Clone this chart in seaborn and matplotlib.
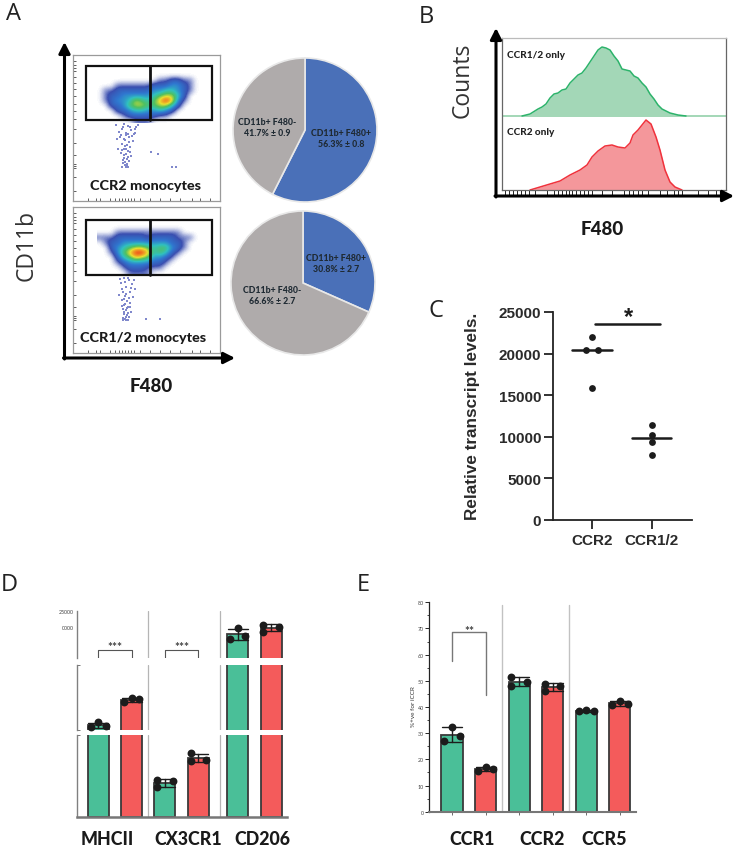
import numpy as np
import pandas as pd
import matplotlib
matplotlib.use('Agg')
import matplotlib.pyplot as plt
from matplotlib.patches import Rectangle
import seaborn as sns

W, H = 742, 853

# ---- panel A: gated density (levels read by eye), columns every 6 px, rows every 5 px
flow_x = [100, 106, 112, 118, 124, 130, 136, 142, 148, 154, 160, 166, 172, 178, 184, 190, 196]
ccr2_y = [76, 81, 86, 91, 96, 101, 106, 111, 116, 121]
ccr2_density = [
    [0, 0, 0, 0, 0, 0, 0, 0, 0, 0, 0, 0, 0, 0, 0, 0, 0],
    [0, 0, 0, 0, 0, 0, 0, 0, 0, 0, 1, 1, 2, 2, 1, 1, 0],
    [0, 0, 0, 1, 1, 1, 1, 1, 1, 2, 2, 2, 3, 3, 2, 1, 0],
    [0, 1, 1, 2, 2, 2, 2, 2, 2, 3, 3, 4, 4, 3, 2, 1, 0],
    [0, 1, 2, 2, 3, 3, 3, 3, 3, 4, 5, 6, 6, 4, 2, 0, 0],
    [0, 1, 2, 3, 3, 4, 6, 5, 4, 5, 7, 9, 7, 3, 1, 0, 0],
    [0, 0, 2, 2, 3, 5, 6, 6, 5, 5, 6, 6, 4, 2, 0, 0, 0],
    [0, 0, 0, 2, 2, 3, 4, 4, 3, 3, 4, 3, 2, 0, 0, 0, 0],
    [0, 0, 0, 0, 1, 2, 2, 2, 2, 2, 1, 1, 0, 0, 0, 0, 0],
    [0, 0, 0, 0, 0, 0, 1, 1, 1, 0, 0, 0, 0, 0, 0, 0, 0],
]
ccr12_y = [228, 233, 238, 243, 248, 253, 258, 263, 268, 273]
ccr12_density = [
    [0, 0, 0, 0, 0, 0, 0, 0, 0, 0, 0, 0, 0, 0, 0, 0, 0],
    [0, 0, 0, 1, 1, 1, 1, 1, 1, 1, 1, 1, 1, 1, 0, 0, 0],
    [1, 1, 1, 2, 2, 2, 2, 2, 1, 2, 2, 2, 2, 1, 1, 1, 0],
    [0, 1, 2, 2, 3, 3, 3, 3, 3, 3, 3, 3, 2, 2, 1, 0, 0],
    [0, 0, 2, 3, 4, 5, 6, 6, 5, 4, 5, 5, 3, 2, 1, 0, 0],
    [0, 0, 1, 3, 5, 7, 9, 9, 7, 4, 5, 4, 2, 1, 0, 0, 0],
    [0, 0, 0, 2, 4, 5, 7, 6, 5, 3, 3, 2, 1, 0, 0, 0, 0],
    [0, 0, 0, 1, 2, 3, 3, 3, 3, 2, 2, 1, 0, 0, 0, 0, 0],
    [0, 0, 0, 0, 1, 2, 2, 2, 1, 1, 1, 0, 0, 0, 0, 0, 0],
    [0, 0, 0, 0, 0, 1, 1, 1, 1, 0, 0, 0, 0, 0, 0, 0, 0],
]
ccr2_tail_x = [124, 128, 122, 131, 126, 134, 120, 129, 125, 133, 122, 127, 130, 124, 128, 121, 126, 131, 124, 127, 129, 123, 125, 127, 126, 128, 151, 158, 172, 176, 136, 118,
               116, 119, 123, 126, 130, 135, 138, 117, 121, 124, 128, 132, 135, 125, 129, 122, 126, 124, 130, 123, 128, 125, 127, 122]
ccr2_tail_y = [125, 127, 130, 131, 134, 135, 138, 138, 141, 142, 145, 146, 148, 150, 152, 154, 155, 157, 159, 160, 162, 164, 166, 167, 168, 168, 153, 155, 168, 168, 128, 150,
               126, 133, 128, 136, 128, 130, 126, 140, 136, 140, 135, 137, 134, 147, 143, 151, 150, 156, 153, 161, 158, 163, 165, 168]
ccr12_tail_x = [124, 129, 121, 132, 126, 135, 123, 130, 125, 133, 122, 127, 130, 124, 128, 123, 126, 131, 124, 127, 129, 123, 125, 127, 126, 128, 146, 160,
                120, 125, 128, 134, 122, 126, 131, 119, 124, 129, 125, 122, 127, 130, 124, 128, 126, 123]
ccr12_tail_y = [279, 281, 284, 285, 288, 290, 293, 293, 297, 298, 301, 302, 304, 306, 308, 310, 311, 313, 315, 316, 318, 319, 320, 321, 321, 321, 320, 320,
                280, 283, 279, 281, 290, 295, 289, 296, 300, 299, 305, 307, 309, 308, 313, 314, 318, 321]
flow_left_ticks = [62, 66, 69, 72, 78, 84, 90, 97, 105, 112, 120, 130, 144, 156, 165, 167, 169, 178, 192]
flow_bottom_ticks = [88, 96, 100, 110, 115, 119, 122, 125, 128, 131, 134, 140, 150, 160, 170, 180, 192, 200, 210]

pie1_values = [56.3, 41.7]
pie2_values = [30.8, 66.6]

# ---- panel B: histograms
green_x = [20, 28, 36, 40, 44, 48, 52, 56, 60, 64, 68, 72, 76, 80, 84, 88, 92, 96, 100, 104, 108, 112, 116, 120, 124, 128, 132, 136, 140, 144, 148, 152, 156, 160, 164, 168, 172, 176, 184]
green_counts = [0, 2, 7, 9, 12, 18, 22, 23, 26, 27, 33, 37, 41, 43, 48, 54, 60, 66, 69, 68, 66, 60, 55, 47, 46, 45, 40, 38, 33, 29, 22, 17, 11, 7, 5, 3, 2, 1, 0]
red_x = [28, 38, 48, 58, 68, 78, 85, 90, 96, 103, 110, 116, 123, 128, 131, 136, 140, 144, 149, 154, 158, 163, 168, 173, 180]
red_counts = [0, 3, 6, 9, 15, 20, 25, 33, 39, 44, 45, 43, 42, 47, 55, 60, 65, 70, 66, 53, 40, 20, 8, 3, 0]
hist_ticks = [3, 7, 11, 15, 19, 23, 27, 33, 45, 52, 56, 60, 64, 67, 70, 74, 78, 82, 86, 90, 100, 110, 122, 127, 131, 136, 140, 146, 158, 165, 172, 176, 180, 196, 206, 214, 220]

# ---- panel C
c_groups = ['CCR2', 'CCR1/2']
c_ccr2 = [22000, 20400, 20400, 15900]
c_ccr12 = [11400, 10200, 9300, 7800]
c_ccr2_shift = [0, -0.107, 0.107, 0]
c_ccr12_shift = [0, 0, 0, 0]
c_medians = [20400, 9800]

# ---- panel D
d_genes = ['MHCII', 'CX3CR1', 'CD206']
d_green = [[1205, 1470, 1225], [455, 362, 439], [19496, 16150, 17013]]
d_red = [[2744, 2969, 2887], [776, 687, 699], [20682, 18416, 19818]]
d_green_side = [[-1, 0, 1], [-1, -1, 1], [0, -1, 1]]
d_red_side = [[-1, 0, 1], [-1, -1, 1], [-1, -1, 1]]

# ---- panel E
e_genes = ['CCR1', 'CCR2', 'CCR5']
e_green = [[32.5, 26.9, 28.9], [51.6, 48.2, 49.4], [38.3, 38.7, 38.3]]
e_red = [[15.4, 17.2, 16.4], [48.8, 46.0, 48.2], [40.6, 42.4, 41.1]]
e_green_side = [[0, -1, 1], [-1, -1, 1], [-1, 0, 1]]
e_red_side = [[-1, 0, 1], [-1, -1, 1], [-1, 0, 1]]

GREEN = '#4ABF98'
RED = '#F45B5B'
BLUE_PIE = '#4A70B8'
GRAY_PIE = '#AFABAB'
DARK = '#1c1c1c'

sns.set_theme(style='ticks')
plt.rcParams['font.family'] = ['Lato', 'DejaVu Sans']

fig = plt.figure(figsize=(W / 100, H / 100), dpi=100)
fig.patch.set_facecolor('white')


def px_axes(left, top, right, bottom):
    ax = fig.add_axes([left / W, 1 - bottom / H, (right - left) / W, (bottom - top) / H])
    ax.patch.set_alpha(0)
    return ax


def long_table(green, red, green_side, red_side, slots):
    rows = []
    for i in range(3):
        for v, s in zip(green[i], green_side[i]):
            rows.append({'pos': slots[2 * i], 'value': v, 'cond': 'a', 'side': s})
        for v, s in zip(red[i], red_side[i]):
            rows.append({'pos': slots[2 * i + 1], 'value': v, 'cond': 'b', 'side': s})
    df = pd.DataFrame(rows)
    df['dot_x'] = df['pos'] + df['side'] * 0.23
    return df


def draw_bars(ax, df, low, high):
    sns.barplot(data=df, x='pos', y='value', hue='cond', palette={'a': GREEN, 'b': RED}, saturation=1,
                native_scale=True, dodge=False, width=0.63, errorbar='sd', capsize=0.6,
                err_kws={'color': DARK, 'linewidth': 1.0}, edgecolor='#3a3a3a', linewidth=1.3,
                legend=False, ax=ax)
    # only the dots of this axis segment, otherwise slivers show at the breaks
    dots = df[(df['value'] >= low) & (df['value'] < high)]
    sns.scatterplot(data=dots, x='dot_x', y='value', color=DARK, s=32, linewidth=0, zorder=6,
                    clip_on=False, legend=False, ax=ax)
    ax.set_xlabel('')
    ax.set_ylabel('')


# overlay in pixel coordinates for letters, arrows and free labels
over = px_axes(0, 0, W, H)
over.set_xlim(0, W)
over.set_ylim(H, 0)
over.axis('off')
over.set_zorder(20)


def arrow(x0, y0, x1, y1):
    over.annotate('', xy=(x1, y1), xytext=(x0, y0),
                  arrowprops=dict(arrowstyle='-|>,head_width=0.28,head_length=0.55', color='black',
                                  lw=2.2, shrinkA=0, shrinkB=0))


for letter, x, y in [('A', 14, 14), ('B', 426, 17), ('C', 436, 311), ('D', 9, 585), ('E', 363, 585)]:
    over.text(x, y, letter, fontsize=17, family='Open Sans', color='#222222', ha='center', va='center')

# ---- A: flow plots
flow_cmap = sns.blend_palette(['white', '#3a4fb0', '#2f78d0', '#30c0c0', '#50c060', '#e8e030', '#f08020', '#e81010'],
                              as_cmap=True)


def flow_panel(top, bottom, gate_top, gate_bottom, ys, density, tail_x, tail_y, label, label_x, label_y):
    ax = px_axes(73, top, 220, bottom)
    ax.imshow(np.array(density), cmap=flow_cmap, vmin=0, vmax=9, interpolation='bicubic', aspect='auto',
              extent=[flow_x[0] - 3, flow_x[-1] + 3, ys[-1] + 2.5, ys[0] - 2.5])
    sns.scatterplot(x=tail_x, y=tail_y, color='#8088cc', s=2.5, linewidth=0, marker='s', legend=False, ax=ax)
    ax.set_xlim(73, 220)
    ax.set_ylim(bottom, top)
    ax.add_patch(Rectangle((86, gate_top), 126, gate_bottom - gate_top, fill=False, ec='#111111', lw=1.6, zorder=5))
    ax.plot([150, 150], [gate_top, gate_bottom], color='#111111', lw=2.0, zorder=5)
    ax.set_xticks(flow_bottom_ticks)
    ax.set_yticks([top + t - 56 for t in flow_left_ticks])
    ax.tick_params(axis='both', direction='in', length=2, width=0.6, color='#444444',
                   labelbottom=False, labelleft=False)
    for s in ax.spines.values():
        s.set_color('#9a9a9a')
        s.set_linewidth(0.9)
    over.text(label_x, label_y, label, fontsize=10.4, fontweight=900, color='#1a1a1a', ha='center', va='center')


flow_panel(56, 202, 67, 121, ccr2_y, ccr2_density, ccr2_tail_x, ccr2_tail_y, 'CCR2 monocytes', 145, 186)
flow_panel(208, 354, 221, 276, ccr12_y, ccr12_density, ccr12_tail_x, ccr12_tail_y, 'CCR1/2 monocytes', 143, 338)
arrow(64.5, 360, 64.5, 43)
arrow(63.5, 359, 235, 359)
over.text(27, 245, 'CD11b', fontsize=16.5, family='Open Sans', color='#333333', rotation=90, ha='center', va='center')
over.text(151, 386, 'F480', fontsize=13.5, fontweight=900, color='#1a1a1a', ha='center', va='center')

# ---- A: pies
for cx, cy, values in [(305, 131, pie1_values), (303, 284, pie2_values)]:
    ax = px_axes(cx - 72, cy - 72, cx + 72, cy + 72)
    ax.pie(values, colors=[BLUE_PIE, GRAY_PIE], startangle=90, counterclock=False, radius=1,
           wedgeprops={'edgecolor': '#e8e8e8', 'linewidth': 1.2})
    ax.set_xlim(-1, 1)
    ax.set_ylim(-1, 1)
for txt, x, y in [('CD11b+ F480-\n41.7% ± 0.9', 267, 128), ('CD11b+ F480+\n56.3% ± 0.8', 341, 139),
                  ('CD11b+ F480+\n30.8% ± 2.7', 336, 264), ('CD11b+ F480-\n66.6% ± 2.7', 272, 296)]:
    over.text(x, y, txt, fontsize=6.3, fontweight=900, color='#1f2a33', ha='center', va='center', linespacing=1.35)

# ---- B: histograms
ax = px_axes(502, 39, 726, 191)
ax.set_xlim(0, 224)
ax.set_ylim(0, 152)
hist = pd.DataFrame({'x': green_x, 'y': [c + 74 for c in green_counts]})
ax.fill_between(green_x, 74, hist['y'], color='#A3D7B7', lw=0)
sns.lineplot(data=hist, x='x', y='y', color='#2DB36B', lw=1.1, ax=ax)
ax.axhline(74, color='#A3D7B7', lw=1.4, zorder=1)
ax.fill_between(red_x, 0, red_counts, color='#F4979B', lw=0)
sns.lineplot(x=red_x, y=red_counts, color='#F0323C', lw=1.1, ax=ax)
ax.set_xlabel('')
ax.set_ylabel('')
ax.set_xticks(hist_ticks)
ax.set_yticks([])
ax.tick_params(axis='x', direction='out', length=4, width=0.7, color='#222222', labelbottom=False)
for s in ax.spines.values():
    s.set_color('#666666')
    s.set_linewidth(0.9)
ax.spines['top'].set_color('#bbbbbb')
over.text(507, 55, 'CCR1/2 only', fontsize=7.2, fontweight=900, color='#222222', ha='left', va='center')
over.text(507, 132, 'CCR2 only', fontsize=7.2, fontweight=900, color='#222222', ha='left', va='center')
arrow(496, 198, 496, 29)
arrow(495, 197, 734, 197)
over.text(463, 80, 'Counts', fontsize=16.5, family='Open Sans', color='#333333', rotation=90, ha='center', va='center')
over.text(602, 229, 'F480', fontsize=13.5, fontweight=900, color='#1a1a1a', ha='center', va='center')

# ---- C: transcript levels
ax = px_axes(553, 313, 692, 520.7)
dots_c = pd.DataFrame({'x': [0 + s for s in c_ccr2_shift] + [1 + s for s in c_ccr12_shift],
                       'y': c_ccr2 + c_ccr12})
sns.scatterplot(data=dots_c, x='x', y='y', color=DARK, s=24, linewidth=0, clip_on=False, ax=ax)
for i, m in enumerate(c_medians):
    ax.plot([i - 0.33, i + 0.33], [m, m], color=DARK, lw=1.8)
ax.plot([0.05, 1.15], [23560, 23560], color=DARK, lw=1.8)
ax.set_xlim(-0.655, 1.68)
ax.set_ylim(0, 25000)
ax.set_xticks([0, 1])
ax.set_xticklabels(c_groups)
ax.set_yticks([0, 5000, 10000, 15000, 20000, 25000])
ax.set_xlabel('')
ax.set_ylabel('')
ax.tick_params(axis='y', length=6.5, width=1.3, color='#222222', pad=2)
ax.tick_params(axis='x', length=6.5, width=1.3, color='#222222', pad=3)
for lab in ax.get_xticklabels() + ax.get_yticklabels():
    lab.set_family('Liberation Sans')
    lab.set_fontweight('bold')
    lab.set_fontsize(11)
    lab.set_color('#2a2a2a')
sns.despine(ax=ax)
for s in ('left', 'bottom'):
    ax.spines[s].set_linewidth(1.3)
    ax.spines[s].set_color('#222222')
over.text(628, 318, '*', fontsize=17, fontweight='bold', family='Liberation Sans', color=DARK, ha='center', va='center')
over.text(472, 416, 'Relative transcript levels.', fontsize=12.3, family='Liberation Sans', fontweight='bold',
          color='#2a2a2a', rotation=90, ha='center', va='center')

# ---- D: broken axis bars
d_slots = [0, 1, 2, 3, 4.19, 5.19]
df_d = long_table(d_green, d_red, d_green_side, d_red_side, d_slots)
segments = [(736, 818, 0, 1000), (666, 731, 1000, 5000), (612, 659, 10000, 25000)]
for top, bottom, low, high in segments:
    ax = px_axes(76.7, top, 286.7, bottom)
    draw_bars(ax, df_d, low, high)
    for v in (1.5, 3.66):
        ax.axvline(v, color='#b5b5b5', lw=0.9, zorder=0)
    ax.set_xlim(-0.65, 5.66)
    ax.set_ylim(low, high)
    ax.set_xticks([])
    ax.set_yticks([low, high] if low != 10000 else [])
    ax.tick_params(axis='y', direction='in', length=2, width=0.7, color='#777777', labelleft=False)
    sns.despine(ax=ax, bottom=(low != 0))
    ax.spines['left'].set_color('#808080')
    ax.spines['left'].set_linewidth(1.0)
    if low == 0:
        ax.spines['bottom'].set_color('#777777')
        ax.spines['bottom'].set_linewidth(1.8)
    if low == 10000:
        for a, b in [(0, 1), (2, 3)]:
            ax.plot([a, a, b, b], [10000, 12700, 12700, 10000], color='#555555', lw=0.8)
        ax.set_yticks([20000, 25000])
        ax.set_yticklabels(['0000', '25000'], fontsize=3.8, color='#444444')
        ax.tick_params(axis='y', length=0, pad=2, labelleft=True)
over.text(115, 647, '***', fontsize=8.5, fontweight='bold', color='#444444', ha='center', va='center')
over.text(182, 648, '***', fontsize=8.5, fontweight='bold', color='#444444', ha='center', va='center')
for name, x in zip(d_genes, [107, 188, 262]):
    over.text(x, 840, name, fontsize=12.8, fontweight=900, color='#1a1a1a', ha='center', va='center')

# ---- E: receptor bars
e_slots = [0, 1, 2, 3, 4, 5]
df_e = long_table(e_green, e_red, e_green_side, e_red_side, e_slots)
ax = px_axes(429.3, 603.3, 635.7, 812.7)
draw_bars(ax, df_e, 0, 80)
for v in (1.495, 3.49):
    ax.plot([v, v], [0, 79], color='#c2c2c2', lw=1.0, zorder=0)
ax.plot([0, 0, 1, 1], [57.5, 68.5, 68.5, 44.6], color='#777777', lw=1.0)
ax.set_xlim(-0.676, 5.47)
ax.set_ylim(0, 80)
ax.set_xticks(e_slots)
ax.set_xticklabels([])
ax.set_yticks(range(0, 90, 10))
ax.set_yticks(range(5, 80, 10), minor=True)
ax.tick_params(axis='y', which='major', length=3, width=0.7, labelsize=3.8, labelcolor='#444444', pad=1)
ax.tick_params(axis='y', which='minor', length=1.8, width=0.6)
ax.tick_params(axis='x', length=2, width=0.6, color='#555555')
sns.despine(ax=ax)
ax.spines['left'].set_color('#222222')
ax.spines['left'].set_linewidth(0.9)
ax.spines['bottom'].set_color('#777777')
ax.spines['bottom'].set_linewidth(1.5)
over.text(469, 631, '**', fontsize=8.5, fontweight='bold', color='#444444', ha='center', va='center')
over.text(413.5, 707, '%+ve for iCCR', fontsize=4.6, color='#333333', rotation=90, ha='center', va='center')
for name, x in zip(e_genes, [472, 542, 604]):
    over.text(x, 840, name, fontsize=12.8, fontweight=900, color='#1a1a1a', ha='center', va='center')

fig.savefig('out.png', dpi=100)
